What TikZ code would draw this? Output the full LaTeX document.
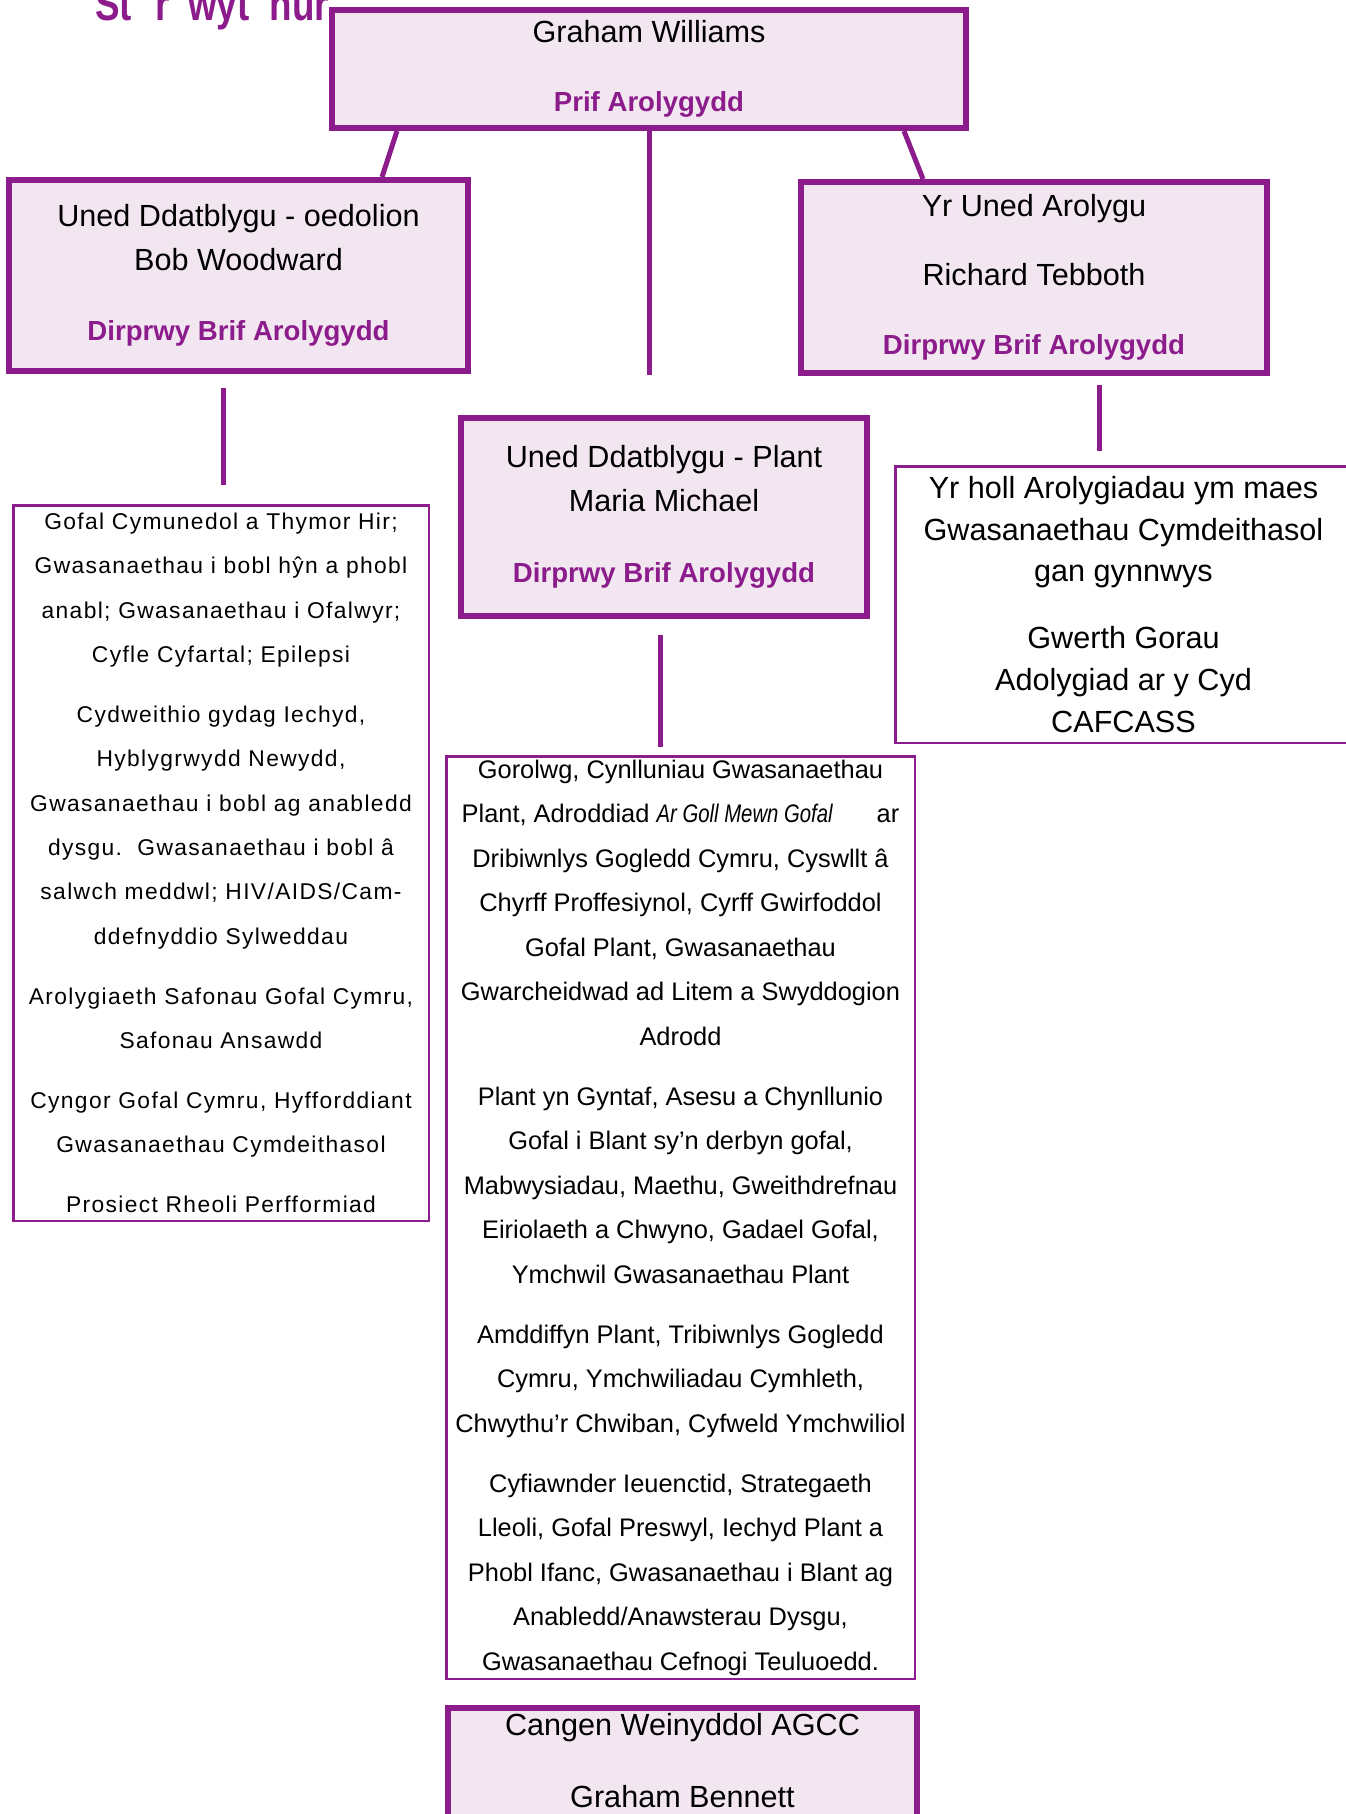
\documentclass[tikz,border=0pt]{standalone}
\usepackage{fontspec}
\setmainfont{Liberation Sans}
\newfontfamily\narrowfont[FakeStretch=0.8]{Liberation Sans}
\newfontfamily\spacedfont[LetterSpace=6]{Liberation Sans}
\definecolor{agccpurple}{RGB}{140,28,140}
\definecolor{agcclilac}{RGB}{242,231,241}
\newcommand{\rolename}[1]{{\bfseries\color{agccpurple}\fontsize{27.6}{44}\selectfont #1}}

\begin{document}
\begin{tikzpicture}[x=1pt, y=-1pt,
    unit/.style={draw=agccpurple, line width=6pt, fill=agcclilac, align=center,
                 inner sep=0pt, font=\fontsize{30.6}{44}\selectfont},
    remit/.style={draw=agccpurple, line width=2.5pt, fill=white, align=center,
                  inner sep=0pt},
    link/.style={draw=agccpurple, line width=5pt},
    heading/.style={font=\narrowfont\bfseries\fontsize{46}{46}\selectfont,
                    text=agccpurple, inner sep=0pt, anchor=base west}
  ]
    \useasboundingbox (0,0) rectangle (1345,1814);

    \node[heading] (title) at (95,21) {St\hspace{24pt}r\hspace{18pt}wyt\hspace{20pt}hur};

    % unit boxes
    \node[unit, minimum width=634, minimum height=118] (chief) at (649,69)
      {Graham Williams\\[25.4pt]\rolename{Prif Arolygydd}};
    \node[unit, minimum width=459, minimum height=191] (adults) at (238.5,275.5)
      {Uned Ddatblygu - oedolion\\Bob Woodward\\[26.5pt]\rolename{Dirprwy Brif Arolygydd}};
    \node[unit, minimum width=466, minimum height=191] (inspect) at (1034,277.5)
      {Yr Uned Arolygu\\[25.3pt]Richard Tebboth\\[25.3pt]\rolename{Dirprwy Brif Arolygydd}};
    \node[unit, minimum width=406, minimum height=198] (children) at (664,517)
      {Uned Ddatblygu - Plant\\Maria Michael\\[26.5pt]\rolename{Dirprwy Brif Arolygydd}};
    \node[unit, minimum width=469, minimum height=200, anchor=north] (admin) at (682.5,1705) {};
    \node[align=center, anchor=north, inner sep=0pt, font=\fontsize{30.6}{44}\selectfont]
      (admintext) at ([yshift=-8]admin.north) {Cangen Weinyddol AGCC\\[28pt]Graham Bennett};

    % remit lists
    \node[remit, minimum width=415.5, minimum height=715.5,
          font=\spacedfont\fontsize{22.8}{44.3}\selectfont] (adultsub) at (221,863)
      {Gofal Cymunedol a Thymor Hir;\\
       Gwasanaethau i bobl hŷn a phobl\\
       anabl; Gwasanaethau i Ofalwyr;\\
       Cyfle Cyfartal; Epilepsi\\[15.7pt]
       Cydweithio gydag Iechyd,\\
       Hyblygrwydd Newydd,\\
       Gwasanaethau i bobl ag anabledd\\
       dysgu.\ \ Gwasanaethau i bobl â\\
       salwch meddwl; HIV/AIDS/Cam-\\
       ddefnyddio Sylweddau\\[15.7pt]
       Arolygiaeth Safonau Gofal Cymru,\\
       Safonau Ansawdd\\[15.7pt]
       Cyngor Gofal Cymru, Hyfforddiant\\
       Gwasanaethau Cymdeithasol\\[15.7pt]
       Prosiect Rheoli Perfformiad};
    \node[remit, minimum width=468.5, minimum height=922.5,
          font=\fontsize{25.4}{44.5}\selectfont] (childsub) at (680.5,1217.5)
      {Gorolwg, Cynlluniau Gwasanaethau\\
       Plant, Adroddiad {\narrowfont\itshape Ar Goll Mewn Gofal}\hspace{44pt}ar\\
       Dribiwnlys Gogledd Cymru, Cyswllt â\\
       Chyrff Proffesiynol, Cyrff Gwirfoddol\\
       Gofal Plant, Gwasanaethau\\
       Gwarcheidwad ad Litem a Swyddogion\\
       Adrodd\\[15.5pt]
       Plant yn Gyntaf, Asesu a Chynllunio\\
       Gofal i Blant sy’n derbyn gofal,\\
       Mabwysiadau, Maethu, Gweithdrefnau\\
       Eiriolaeth a Chwyno, Gadael Gofal,\\
       Ymchwil Gwasanaethau Plant\\[15.5pt]
       Amddiffyn Plant, Tribiwnlys Gogledd\\
       Cymru, Ymchwiliadau Cymhleth,\\
       Chwythu’r Chwiban, Cyfweld Ymchwiliol\\[15.5pt]
       Cyfiawnder Ieuenctid, Strategaeth\\
       Lleoli, Gofal Preswyl, Iechyd Plant a\\
       Phobl Ifanc, Gwasanaethau i Blant ag\\
       Anabledd/Anawsterau Dysgu,\\
       Gwasanaethau Cefnogi Teuluoedd.};
    \node[remit, minimum width=456.5, minimum height=276.5,
          font=\fontsize{30.6}{41.6}\selectfont] (inspsub) at (1123.5,604.5)
      {Yr holl Arolygiadau ym maes\\
       Gwasanaethau Cymdeithasol\\
       gan gynnwys\\[25.4pt]
       Gwerth Gorau\\
       Adolygiad ar y Cyd\\
       CAFCASS};

    % connectors
    \draw[link] ([xshift=-252]chief.south) -- ([xshift=143.5]adults.north);
    \draw[link] ([xshift=255]chief.south) -- ([xshift=-111]inspect.north);
    \draw[link, shorten >=40] (chief.south) -- (chief.south |- children.north);
    \draw[link, shorten <=14, shorten >=19] ([xshift=2]adultsub.north |- adults.south) -- ([xshift=2]adultsub.north);
    \draw[link, shorten <=16, shorten >=8] ([xshift=-4]children.south) -- ([xshift=-4]children.south |- childsub.north);
    \draw[link, shorten <=9, shorten >=14] ([xshift=65]inspect.south) -- ([xshift=-24.5]inspsub.north);
\end{tikzpicture}
\end{document}
